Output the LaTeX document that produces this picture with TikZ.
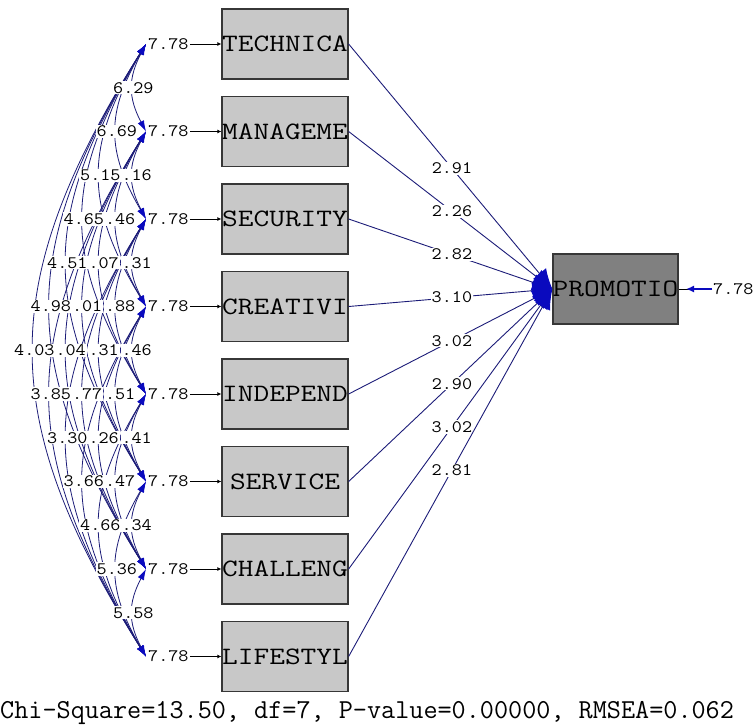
\documentclass[tikz,border=0pt]{standalone}
\usepackage{fontspec}
\usepackage{graphicx}
\setmainfont{Liberation Serif}
\usetikzlibrary{arrows.meta}
\definecolor{boxgray}{RGB}{200,200,200}
\definecolor{promgray}{RGB}{128,128,128}
\definecolor{pathblue}{RGB}{28,28,120}
\definecolor{headblue}{RGB}{10,10,190}
\definecolor{edgegray}{RGB}{55,55,55}
\newcommand\numtxt[1]{\scalebox{1.12}[1]{#1}}
\newcommand\boxtxt[1]{\makebox[0pt]{\scalebox{1.22}[1]{#1}}}
\begin{document}
\begin{tikzpicture}[x=1pt,y=-1pt,
  obs/.style={draw=edgegray, line width=1.3pt, fill=boxgray, minimum width=126pt, minimum height=70pt, inner sep=0pt, font=\ttfamily\fontsize{25}{27}\selectfont},
  num/.style={font=\ttfamily\fontsize{17.5}{18}\selectfont, inner sep=1pt},
  numbg/.style={num, fill=white},
  reg/.style={draw=pathblue, line width=0.9pt, -{Latex[length=20pt,width=17pt,color=headblue]}},
  cov/.style={draw=pathblue, line width=0.8pt, {Latex[length=11pt,width=7pt,color=headblue]}-{Latex[length=11pt,width=7pt,color=headblue]}},
  err/.style={draw=black, line width=0.9pt, -{Latex[length=4pt,width=4pt]}},
]
\useasboundingbox (0,0) rectangle (753,728);

% observed boxes, error labels, covariance anchor points
\foreach \t [count=\i] in {TECHNICA,MANAGEME,SECURITY,CREATIVI,INDEPEND,SERVICE,CHALLENG,LIFESTYL} {
  \pgfmathsetmacro\yy{44+87.5*(\i-1)}
  \node[obs] (b\i) at (285,\yy) {\boxtxt{\t}};
  \node[num, anchor=west] (e\i) at (147,\yy) {\numtxt{7.78}};
  \coordinate (c\i) at (146,\yy);
  \draw[err] (e\i.east) -- (b\i.west);
}

% dependent box
\node[obs, fill=promgray, minimum width=125pt] (pr) at (615.5,289) {\boxtxt{PROMOTIO}};
\node[num, anchor=west] (e9) at (712,289) {\numtxt{7.78}};
\coordinate (pm) at (686,289);
\draw[line width=0.9pt] (e9.west) -- (pr.east);
\draw[headblue, line width=1.8pt, -{Latex[length=8pt,width=7pt]}] (e9.west) -- (pm);

% regression paths
\foreach \val [count=\i] in {2.91,2.26,2.82,3.10,3.02,2.90,3.02,2.81} {
  \draw[reg] (b\i.east) -- node[numbg, pos=0.507] (p\i) {\numtxt{\val}} (pr.west);
}

% covariance curves
\foreach \i in {1,...,7} {
  \pgfmathtruncatemacro\ip{\i+1}
  \foreach \j in {\ip,...,8} {
    \pgfmathsetmacro\spn{\j-\i}
    \pgfmathsetmacro\xmid{33.5+16.5*(7-\spn)}
    \pgfmathsetmacro\ctlx{(4*\xmid-146)/3}
    \pgfmathsetmacro\hh{87.5*\spn}
    \pgfmathsetmacro\ya{44+87.5*(\i-1)+0.39*\hh}
    \pgfmathsetmacro\yb{44+87.5*(\j-1)-0.39*\hh}
    \draw[cov] (c\i) .. controls (\ctlx,\ya) and (\ctlx,\yb) .. (c\j);
  }
}

% covariance labels
\foreach \i/\j/\txt/\full in {1/2/6.29/1, 1/3/6.69/1, 1/4/5.15/1, 2/3/.16/0, 1/5/4.65/1, 2/4/.46/0,
  1/6/4.51/1, 2/5/.07/0, 3/4/.31/0, 1/7/4.98/1, 2/6/.01/0, 3/5/.88/0,
  1/8/4.03/1, 2/7/.04/0, 3/6/.31/0, 4/5/.46/0, 2/8/3.85/1, 3/7/.77/0, 4/6/.51/0,
  3/8/3.30/1, 4/7/.26/0, 5/6/.41/0, 4/8/3.66/1, 5/7/.47/0, 5/8/4.66/1, 6/7/.34/0,
  6/8/5.36/1, 7/8/5.58/1} {
  \pgfmathsetmacro\lft{13+16.5*(7-(\j-\i))}
  \pgfmathsetmacro\yy{44+87.5*((\i+\j)/2-1)}
  \ifnum\full=1
    \node[numbg, anchor=west] (l\i\j) at (\lft,\yy) {\numtxt{\txt}};
  \else
    \node[numbg, anchor=east] (l\i\j) at (\lft+41,\yy) {\numtxt{\txt}};
  \fi
}

% fit statistics
\node[font=\ttfamily\fontsize{27.4}{30}\selectfont, anchor=west, inner sep=0pt] (stat) at (0,713) {Chi-Square=13.50, df=7, P-value=0.00000, RMSEA=0.062};
\end{tikzpicture}
\end{document}
